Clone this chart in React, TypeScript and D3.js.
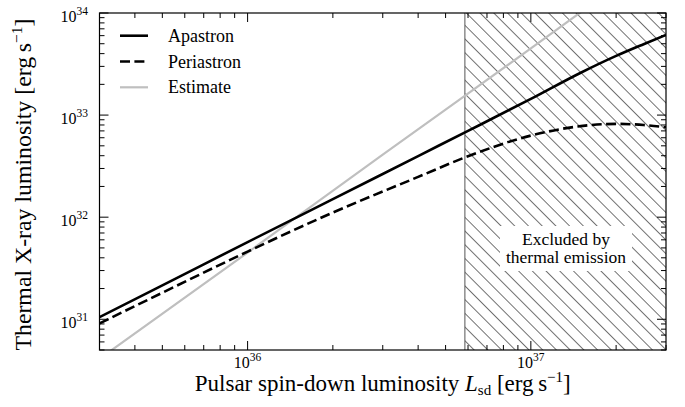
import React from "react";
import * as d3 from "d3";

const lsd = [3e35, 5e35, 1e36, 2e36, 4e36, 6e36, 1e37, 1.5e37, 2e37, 2.5e37, 3e37];
const apastron = [1.05e31, 2.15e31, 5.7e31, 1.5e32, 3.97e32, 7.0e32, 1.44e33, 2.6e33, 3.8e33, 4.95e33, 6.1e33];
const periastron = [9.1e30, 1.82e31, 4.6e31, 1.11e32, 2.48e32, 3.95e32, 6.3e32, 7.8e32, 8.2e32, 8.0e32, 7.6e32];
const estimateLsd = [3e35, 1e36, 3e36, 1e37, 3e37];
const estimate = [4.1e30, 4.5e31, 4.1e32, 4.5e33, 4.1e34];
const exclusionStart = 5.85e36;
const xDomain = [3e35, 3e37];
const yDomain = [5e30, 1e34];
const xMajor = [36, 37];
const yMajor = [31, 32, 33, 34];
const legendLabels = ["Apastron", "Periastron", "Estimate"];

const W = 685;
const H = 407;
const L = 99.5, R = 666, T = 13, B = 350;
const FONT = "'Liberation Serif', 'Times New Roman', serif";
const DASH = "10,4.4";

export default function App() {
  const x = d3.scaleLog().domain(xDomain).range([L, R]);
  const y = d3.scaleLog().domain(yDomain).range([B, T]);

  const line = d3
    .line<[number, number]>()
    .x((d) => x(d[0]))
    .y((d) => y(d[1]))
    .curve(d3.curveMonotoneX);

  const apPts = lsd.map((v, i) => [v, apastron[i]] as [number, number]);
  const pePts = lsd.map((v, i) => [v, periastron[i]] as [number, number]);
  const esPts = estimateLsd.map((v, i) => [v, estimate[i]] as [number, number]);

  const xMinor: number[] = [];
  for (let e = 35; e <= 37; e++)
    for (let m = 2; m <= 9; m++) {
      const v = m * Math.pow(10, e);
      if (v >= xDomain[0] && v <= xDomain[1]) xMinor.push(v);
    }
  const yMinor: number[] = [];
  for (let e = 30; e <= 33; e++)
    for (let m = 2; m <= 9; m++) {
      const v = m * Math.pow(10, e);
      if (v >= yDomain[0] && v <= yDomain[1]) yMinor.push(v);
    }

  const majLen = 9, minLen = 5;
  const xs = x(exclusionStart);
  const hatchSpacing = 9.7;

  return (
    <svg width={W} height={H} style={{ position: "absolute", left: 0, top: 0, background: "#fff" }} fontFamily={FONT}>
      <defs>
        <clipPath id="plotClip">
          <rect x={L} y={T} width={R - L} height={B - T} />
        </clipPath>
        <pattern
          id="hatch"
          patternUnits="userSpaceOnUse"
          width={hatchSpacing}
          height={hatchSpacing}
          patternTransform="rotate(-45)"
        >
          <line x1={0} y1={-1} x2={0} y2={hatchSpacing + 1} stroke="#000" strokeWidth={1.1} />
        </pattern>
      </defs>
      <rect x={0} y={0} width={W} height={H} fill="#fff" />

      {/* excluded region */}
      <g clipPath="url(#plotClip)">
        <rect x={xs} y={T} width={R - xs} height={B - T} fill="url(#hatch)" />
        <line x1={xs} x2={xs} y1={T} y2={B} stroke="#555" strokeWidth={1} />
      </g>

      {/* curves */}
      <g clipPath="url(#plotClip)" fill="none">
        <path d={line(esPts) || ""} stroke="#bfbfbf" strokeWidth={2.2} />
        <path d={line(pePts) || ""} stroke="#000" strokeWidth={2.6} strokeDasharray={DASH} />
        <path d={line(apPts) || ""} stroke="#000" strokeWidth={2.6} />
      </g>

      {/* annotation */}
      <rect x={500} y={226} width={132} height={45} fill="#fff" />
      <text x={566} y={244.5} textAnchor="middle" fontSize={17.5} fill="#000">Excluded by</text>
      <text x={566} y={263} textAnchor="middle" fontSize={17.5} fill="#000">thermal emission</text>

      {/* frame */}
      <rect x={L} y={T} width={R - L} height={B - T} fill="none" stroke="#000" strokeWidth={1.2} />

      {/* ticks */}
      <g stroke="#000" strokeWidth={1}>
        {xMajor.map((e) => {
          const px = x(Math.pow(10, e));
          return (
            <g key={"xM" + e}>
              <line x1={px} x2={px} y1={B} y2={B - majLen} />
              <line x1={px} x2={px} y1={T} y2={T + majLen} />
            </g>
          );
        })}
        {xMinor.map((v, i) => {
          const px = x(v);
          return (
            <g key={"xm" + i}>
              <line x1={px} x2={px} y1={B} y2={B - minLen} />
              <line x1={px} x2={px} y1={T} y2={T + minLen} />
            </g>
          );
        })}
        {yMajor.map((e) => {
          const py = y(Math.pow(10, e));
          return (
            <g key={"yM" + e}>
              <line x1={L} x2={L + majLen} y1={py} y2={py} />
              <line x1={R} x2={R - majLen} y1={py} y2={py} />
            </g>
          );
        })}
        {yMinor.map((v, i) => {
          const py = y(v);
          return (
            <g key={"ym" + i}>
              <line x1={L} x2={L + minLen} y1={py} y2={py} />
              <line x1={R} x2={R - minLen} y1={py} y2={py} />
            </g>
          );
        })}
      </g>

      {/* tick labels */}
      {xMajor.map((e) => (
        <text key={"xl" + e} x={x(Math.pow(10, e))} y={368} textAnchor="middle" fontSize={16} fill="#000">
          10<tspan dy={-7} fontSize={11.5}>{e}</tspan>
        </text>
      ))}
      {yMajor.map((e) => (
        <text key={"yl" + e} x={88} y={y(Math.pow(10, e)) + 9} textAnchor="end" fontSize={16} fill="#000">
          10<tspan dy={-7} fontSize={11.5}>{e}</tspan>
        </text>
      ))}

      {/* axis labels */}
      <text x={(L + R) / 2} y={390.5} textAnchor="middle" fontSize={23} fill="#000">
        Pulsar spin-down luminosity <tspan fontStyle="italic">L</tspan>
        <tspan dy={4} fontSize={15}>sd</tspan>
        <tspan dy={-4}>{" [erg\u2009s"}</tspan>
        <tspan dy={-9} fontSize={15}>{"\u22121"}</tspan>
        <tspan dy={9}>]</tspan>
      </text>
      <text
        transform={`translate(31, ${(T + B) / 2 + 3}) rotate(-90)`}
        textAnchor="middle"
        fontSize={23.8}
        fill="#000"
      >
        {"Thermal X-ray luminosity [erg\u2009s"}
        <tspan dy={-9} fontSize={15.5}>{"\u22121"}</tspan>
        <tspan dy={9}>]</tspan>
      </text>

      {/* legend */}
      {legendLabels.map((lab, i) => {
        const ly = 35.7 + i * 25.8;
        const stroke = i === 2 ? "#bfbfbf" : "#000";
        const sw = i === 2 ? 2.2 : 2.6;
        return (
          <g key={lab}>
            <line x1={120} x2={148} y1={ly} y2={ly} stroke={stroke} strokeWidth={sw} strokeDasharray={i === 1 ? DASH : undefined} />
            <text x={168} y={ly + 6} fontSize={18} fill="#000">{lab}</text>
          </g>
        );
      })}
    </svg>
  );
}
